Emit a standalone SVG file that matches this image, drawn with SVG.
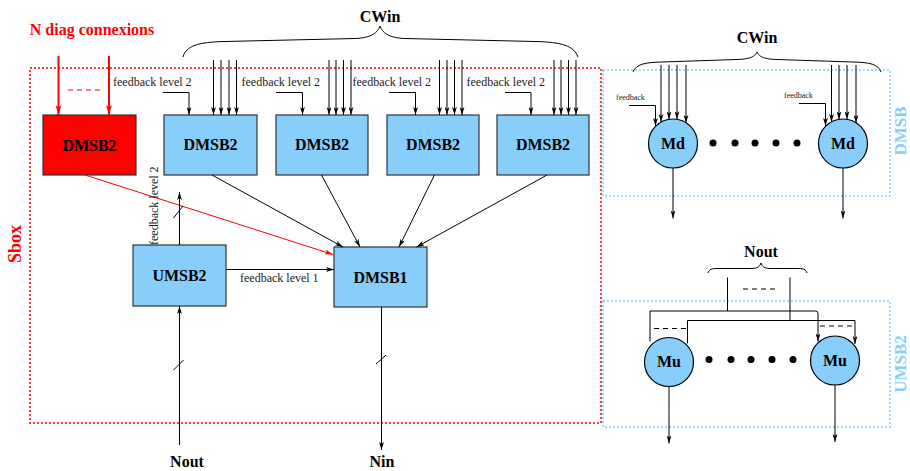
<svg xmlns="http://www.w3.org/2000/svg" width="910" height="471" viewBox="0 0 910 471">
<defs>
<style>
.box{fill:#87CEFA;stroke:#333;stroke-width:1.2}
.red{fill:#FF0000;stroke:#333;stroke-width:1.2}
.lbl{font-family:"Liberation Serif","Times New Roman",serif;font-weight:bold;font-size:16px;fill:#000;text-anchor:middle}
.fb{font-family:"Liberation Serif","Times New Roman",serif;font-size:12px;fill:#222}
.fbs{font-family:"Liberation Serif","Times New Roman",serif;font-size:8px;fill:#222}
.ln{fill:none;stroke:#000;stroke-width:1}
.arr{fill:none;stroke:#000;stroke-width:1;marker-end:url(#ah)}
.rarr{fill:none;stroke:#FF0000;stroke-width:2;marker-end:url(#rah)}
.dash{fill:none;stroke:#000;stroke-width:1;stroke-dasharray:5 4}
.circ{fill:#87CEFA;stroke:#000;stroke-width:1.2}
</style>
<marker id="ah" viewBox="0 0 10 6" refX="10" refY="3" markerWidth="8" markerHeight="5" orient="auto" markerUnits="userSpaceOnUse"><path d="M0,0 L10,3 L0,6 L2.5,3 z" fill="#000"/></marker>
<marker id="rah" viewBox="0 0 10 6" refX="10" refY="3" markerWidth="10" markerHeight="6" orient="auto" markerUnits="userSpaceOnUse"><path d="M0,0 L10,3 L0,6 L2.5,3 z" fill="#FF0000"/></marker>
<marker id="rah2" viewBox="0 0 10 6" refX="10" refY="3" markerWidth="9" markerHeight="5" orient="auto" markerUnits="userSpaceOnUse"><path d="M0,0 L10,3 L0,6 L2.5,3 z" fill="#FF0000"/></marker>
</defs>

<!-- frames -->
<g id="sbox">
<rect x="30" y="68" width="571" height="355" fill="none" stroke="#FF0000" stroke-width="1.5" stroke-dasharray="2 2"/>
<text class="lbl" style="fill:#FF0000;font-size:18px" transform="translate(21,244) rotate(-90)">Sbox</text>
</g>
<g id="dmsb-frame">
<rect x="603" y="70" width="287" height="126" fill="none" stroke="#87CEFA" stroke-width="1.5" stroke-dasharray="2 2"/>
<text class="lbl" style="fill:#87CEFA;font-size:17px" transform="translate(906,131) rotate(-90)">DMSB</text>
</g>
<g id="umsb-frame">
<rect x="603" y="301" width="287" height="126" fill="none" stroke="#87CEFA" stroke-width="1.5" stroke-dasharray="2 2"/>
<text class="lbl" style="fill:#87CEFA;font-size:17px" transform="translate(906,364) rotate(-90)">UMSB2</text>
</g>

<!-- labels -->
<text class="lbl" style="fill:#FF0000" x="92" y="35">N diag connexions</text>
<text class="lbl" x="380" y="22">CWin</text>
<text class="lbl" x="757" y="43">CWin</text>
<text class="lbl" x="761" y="257">Nout</text>
<text class="lbl" x="187" y="467">Nout</text>
<text class="lbl" x="382" y="467">Nin</text>

<!-- nodes -->
<g id="dmsb2-red"><rect class="red" x="43" y="115" width="93" height="60"/><text class="lbl" x="89.5" y="150.5">DMSB2</text></g>
<g id="dmsb2-1"><rect class="box" x="164" y="115" width="93" height="60"/><text class="lbl" x="210.5" y="150">DMSB2</text></g>
<g id="dmsb2-2"><rect class="box" x="276" y="115" width="92" height="60"/><text class="lbl" x="322" y="150">DMSB2</text></g>
<g id="dmsb2-3"><rect class="box" x="387" y="115" width="92" height="60"/><text class="lbl" x="433" y="150">DMSB2</text></g>
<g id="dmsb2-4"><rect class="box" x="497" y="115" width="92" height="60"/><text class="lbl" x="543" y="150">DMSB2</text></g>
<g id="umsb2"><rect class="box" x="133" y="245" width="93" height="61"/><text class="lbl" x="179.5" y="281">UMSB2</text></g>
<g id="dmsb1"><rect class="box" x="334" y="247" width="93" height="60"/><text class="lbl" x="380.5" y="283">DMSB1</text></g>

<g id="md1"><circle class="circ" cx="673" cy="143.5" r="24.5"/><text class="lbl" x="673" y="148.5">Md</text></g>
<g id="md2"><circle class="circ" cx="843" cy="143.5" r="24.5"/><text class="lbl" x="843" y="148.5">Md</text></g>
<g id="mu1"><circle class="circ" cx="669" cy="362" r="24.5"/><text class="lbl" x="669" y="367">Mu</text></g>
<g id="mu2"><circle class="circ" cx="835" cy="360.5" r="24.5"/><text class="lbl" x="835" y="365.5">Mu</text></g>

<g id="dots" fill="#000">
<circle cx="713" cy="143" r="3.5"/><circle cx="735" cy="143" r="3.5"/><circle cx="755" cy="143" r="3.5"/><circle cx="776" cy="143" r="3.5"/><circle cx="797" cy="143" r="3.5"/>
<circle cx="709" cy="359.5" r="3.5"/><circle cx="731" cy="359.5" r="3.5"/><circle cx="751" cy="359.5" r="3.5"/><circle cx="772" cy="359.5" r="3.5"/><circle cx="793" cy="359.5" r="3.5"/>
</g>

<!-- connectors -->
<g id="connectors">
<!-- braces -->
<path class="ln" d="M183,57 C186,46 198,42 225,41.5 L355,38.5 C372,38 378,32 380,26 C382,32 388,38 405,38.5 L535,41.5 C562,42 574,46 578,57"/>
<path class="ln" d="M633,72 C636,64 645,62.5 662,62 L737,59.5 C752,59 755,56 757,52 C759,56 762,59 777,59.5 L853,62 C870,62.5 878,64 881,72"/>
<path class="ln" d="M708,273 C709,269 712,268.5 718,268.5 L752,268.5 C758,268.5 760,266 761,263 C762,266 764,268.5 770,268.5 L797,268.5 C803,268.5 806,269 807,273"/>

<!-- red inputs -->
<line class="rarr" x1="58.5" y1="56" x2="58.5" y2="115"/>
<line class="rarr" x1="109" y1="56" x2="109" y2="115"/>
<line x1="68" y1="90" x2="100" y2="90" stroke="#FF0000" stroke-width="1" stroke-dasharray="5 4"/>

<!-- CWin inputs to DMSB2 boxes -->
<line class="arr" x1="213.5" y1="60" x2="213.5" y2="115"/><line class="arr" x1="221" y1="60" x2="221" y2="115"/><line class="arr" x1="229" y1="60" x2="229" y2="115"/><line class="arr" x1="236.5" y1="60" x2="236.5" y2="115"/>
<line class="arr" x1="329" y1="60" x2="329" y2="115"/><line class="arr" x1="336" y1="60" x2="336" y2="115"/><line class="arr" x1="343.5" y1="60" x2="343.5" y2="115"/><line class="arr" x1="351" y1="60" x2="351" y2="115"/>
<line class="arr" x1="439.5" y1="60" x2="439.5" y2="115"/><line class="arr" x1="447" y1="60" x2="447" y2="115"/><line class="arr" x1="454.5" y1="60" x2="454.5" y2="115"/><line class="arr" x1="462" y1="60" x2="462" y2="115"/>
<line class="arr" x1="554" y1="60" x2="554" y2="115"/><line class="arr" x1="561" y1="60" x2="561" y2="115"/><line class="arr" x1="568.5" y1="60" x2="568.5" y2="115"/><line class="arr" x1="576" y1="60" x2="576" y2="115"/>

<!-- feedback level 2 -->
<text class="fb" x="113" y="86">feedback level 2</text>
<text class="fb" x="241.5" y="86">feedback level 2</text>
<text class="fb" x="352.5" y="86">feedback level 2</text>
<text class="fb" x="466.5" y="86">feedback level 2</text>
<path class="arr" d="M163,92.5 L189,92.5 L189,115"/>
<path class="arr" d="M276,92.5 L302.5,92.5 L302.5,115"/>
<path class="arr" d="M389,92.5 L415.5,92.5 L415.5,115"/>
<path class="arr" d="M505,92.5 L531,92.5 L531,115"/>

<!-- to DMSB1 -->
<line class="arr" x1="212" y1="175" x2="343" y2="247"/>
<line class="arr" x1="321.5" y1="175" x2="360" y2="247"/>
<line class="arr" x1="434.5" y1="175" x2="399" y2="247"/>
<line class="arr" x1="547" y1="175" x2="416.5" y2="247"/>
<line x1="85" y1="175" x2="333" y2="254.5" stroke="#FF0000" stroke-width="1" marker-end="url(#rah2)"/>

<!-- UMSB2 feedback level 2 up -->
<line class="arr" x1="179.5" y1="245" x2="179.5" y2="192"/>
<line class="ln" x1="173.5" y1="218" x2="183" y2="206"/>
<text class="fb" transform="translate(158,245) rotate(-90)">feedback level 2</text>

<!-- feedback level 1 -->
<line class="arr" x1="226" y1="269.5" x2="334" y2="269.5"/>
<text class="fb" x="240" y="282">feedback level 1</text>

<!-- Nout / Nin -->
<line class="arr" x1="179.5" y1="445" x2="179.5" y2="306"/>
<line class="ln" x1="173.5" y1="370" x2="183.5" y2="360"/>
<line class="arr" x1="381.5" y1="307" x2="381.5" y2="450"/>
<line class="ln" x1="376" y1="364" x2="386" y2="355"/>

<!-- Md inputs -->
<line class="arr" x1="661" y1="65" x2="661" y2="122"/><line class="arr" x1="669" y1="65" x2="669" y2="119.5"/><line class="arr" x1="677" y1="65" x2="677" y2="119.3"/><line class="arr" x1="686" y1="65" x2="686" y2="123"/>
<line class="arr" x1="831.5" y1="65" x2="831.5" y2="122"/><line class="arr" x1="839" y1="65" x2="839" y2="119.5"/><line class="arr" x1="847" y1="65" x2="847" y2="119.3"/><line class="arr" x1="856" y1="65" x2="856" y2="123"/>
<text class="fbs" x="616" y="100">feedback</text>
<text class="fbs" x="784" y="97.5">feedback</text>
<path class="arr" d="M629,105.5 L655.5,105.5 L655.5,126"/>
<path class="arr" d="M799,103.5 L825.5,103.5 L825.5,126"/>
<line class="arr" x1="673" y1="168" x2="673" y2="218.5"/>
<line class="arr" x1="843" y1="168" x2="843" y2="218.5"/>

<!-- Mu inputs -->
<line class="ln" x1="727.5" y1="277.5" x2="727.5" y2="311"/>
<line class="ln" x1="790" y1="277.5" x2="790" y2="320.5"/>
<line class="dash" x1="743" y1="289" x2="775" y2="289"/>
<path class="arr" d="M650,341.5 L650,311 L815.5,311 Q818,311 818,313.5 L818,341.5"/>
<path class="arr" d="M687.5,343.5 L687.5,320.5 L855,320.5 L855,344"/>
<line class="dash" x1="654" y1="328.5" x2="686" y2="328.5"/>
<line class="dash" x1="820" y1="326" x2="853" y2="326"/>
<line class="arr" x1="669" y1="386.5" x2="669" y2="443.5"/>
<line class="arr" x1="835" y1="385" x2="835" y2="442"/>
</g>
</svg>
